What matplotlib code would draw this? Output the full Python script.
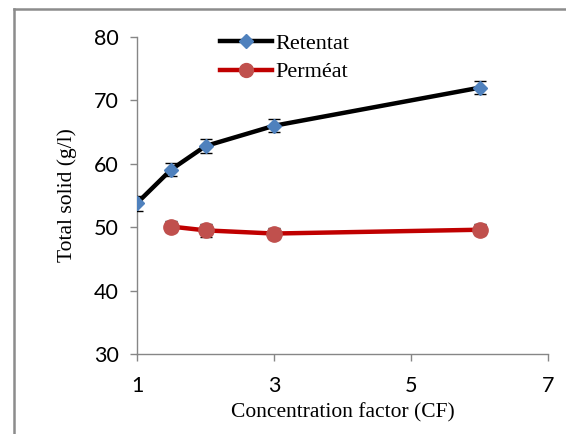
import matplotlib
matplotlib.use('Agg')
import matplotlib.pyplot as plt
from matplotlib.lines import Line2D

# данные
cf_ret = [1, 1.5, 2, 3, 6]
retentat = [53.8, 59.1, 62.8, 66.0, 72.0]
err_ret = [1.2, 1.0, 1.05, 1.0, 1.05]

cf_perm = [1.5, 2, 3, 6]
permeat = [50.1, 49.5, 49.0, 49.6]
err_perm = [0.9, 1.0, 0.9, 0.9]

x_ticks = [1, 3, 5, 7]
y_ticks = [30, 40, 50, 60, 70, 80]

grey = '#868686'
serif = 'Liberation Serif'

fig = plt.figure(figsize=(5.66, 4.34), dpi=100)
ax = fig.add_axes([137/566, 80/434, 411/566, 317/434])

# рамка вокруг графика (обрезана справа и снизу)
fig.add_artist(Line2D([14/566, 14/566], [0, 1 - 9/434], transform=fig.transFigure,
                      color='#8c8c8c', lw=1.8))
fig.add_artist(Line2D([14/566, 1], [1 - 9/434, 1 - 9/434], transform=fig.transFigure,
                      color='#8c8c8c', lw=1.8))

ax.errorbar(cf_ret, retentat, yerr=err_ret, color='black', lw=3.2,
            marker='D', markersize=7, markerfacecolor='#4F81BD', markeredgecolor='#4F81BD',
            ecolor='black', elinewidth=1, capsize=4, capthick=1, label='Retentat', zorder=3)
ax.errorbar(cf_perm, permeat, yerr=err_perm, color='#C00000', lw=3.2,
            marker='o', markersize=11, markerfacecolor='#C0504D', markeredgecolor='#C0504D',
            ecolor='black', elinewidth=1, capsize=4, capthick=1, label='Perméat', zorder=3)

ax.set_xlim(1, 7)
ax.set_ylim(30, 80)
ax.set_xticks(x_ticks)
ax.set_yticks(y_ticks)

for side in ['top', 'right']:
    ax.spines[side].set_visible(False)
for side in ['left', 'bottom']:
    ax.spines[side].set_color(grey)
    ax.spines[side].set_linewidth(1)

ax.tick_params(colors=grey, length=5, width=1, labelcolor='black', labelsize=15.5)
ax.tick_params(axis='x', pad=11)
ax.tick_params(axis='y', pad=8)
for lab in ax.get_xticklabels() + ax.get_yticklabels():
    lab.set_family('Lato')

ax.set_xlabel('Concentration factor (CF)', fontsize=15.5, family=serif, labelpad=5)
ax.set_ylabel('Total solid (g/l)', fontsize=15.5, family=serif, labelpad=12)

# легенда без ошибок, только линия с маркером
handles = [
    Line2D([], [], color='black', lw=3.2, marker='D', markersize=7,
           markerfacecolor='#4F81BD', markeredgecolor='#4F81BD'),
    Line2D([], [], color='#C00000', lw=3.2, marker='o', markersize=10,
           markerfacecolor='#C0504D', markeredgecolor='#C0504D'),
]
ax.legend(handles, ['Retentat', 'Perméat'], loc='upper left', bbox_to_anchor=(0.202, 1.011),
          frameon=False, prop={'family': serif, 'size': 16}, handlelength=2.35,
          handletextpad=0.15, labelspacing=0.35, borderpad=0, borderaxespad=0)

fig.savefig('out.png', dpi=100)
